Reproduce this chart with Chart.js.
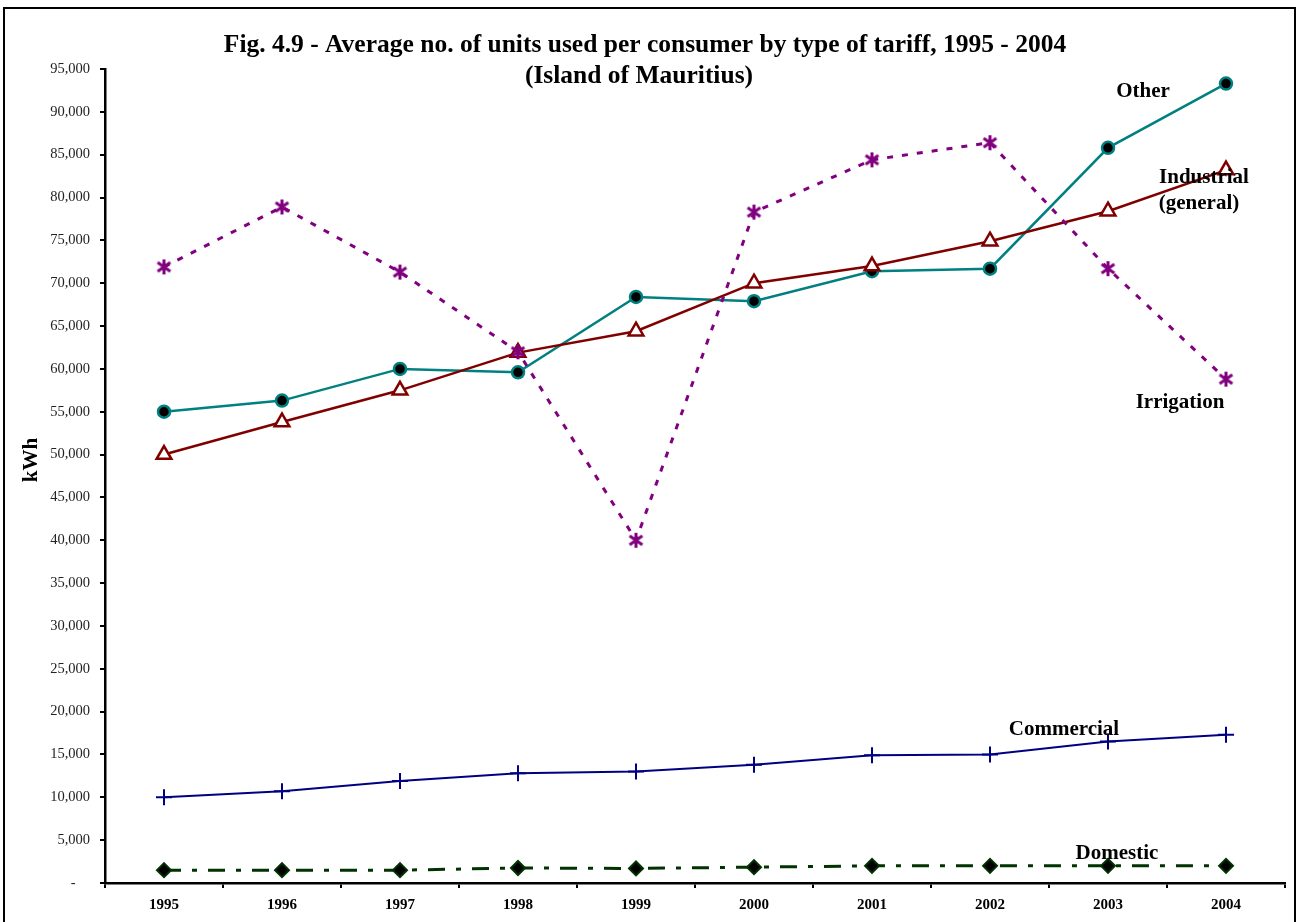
<!DOCTYPE html>
<html>
<head>
<meta charset="utf-8">
<script src="https://cdn.jsdelivr.net/npm/chart.js@4.4.1/dist/chart.umd.min.js"></script>
<style>
  html, body { margin: 0; padding: 0; background: #fff; }
  #wrap { width: 1298px; height: 922px; position: relative; }
</style>
</head>
<body>
<div id="wrap"><canvas id="c" width="1298" height="922"></canvas></div>
<script>
// Average units (kWh) per consumer, by tariff
const years = ['1995', '1996', '1997', '1998', '1999', '2000', '2001', '2002', '2003', '2004'];
const other      = [55000, 56300, 60000, 59600, 68400, 67900, 71400, 71700, 85800, 93300];
const industrial = [50000, 53800, 57500, 61900, 64400, 70000, 72000, 74900, 78400, 83200];
const irrigation = [71900, 78900, 71300, 62000, 40000, 78300, 84400, 86400, 71700, 58800];
const commercial = [10000, 10700, 11900, 12800, 13000, 13800, 14900, 15000, 16500, 17300];
const domestic   = [1500, 1500, 1500, 1750, 1700, 1850, 2000, 2000, 2000, 2000];
const yTicks = { min: 0, max: 95000, step: 5000 };
const titleLines = ['Fig. 4.9 - Average no. of units used per consumer by type of tariff, 1995 - 2004',
                    '(Island of Mauritius)'];
const yTitle = 'kWh';
const seriesNames = ['Other', 'Industrial (general)', 'Irrigation', 'Commercial', 'Domestic'];

const SERIF = '"Liberation Serif", "Times New Roman", serif';

// six-armed asterisk marker (X plus a vertical bar)
function asteriskMarker(color, size, lw) {
  const c = document.createElement('canvas');
  c.width = size; c.height = size;
  const g = c.getContext('2d');
  const m = size / 2, r = size / 2 - 1;
  g.strokeStyle = color; g.lineWidth = lw; g.lineCap = 'butt';
  g.beginPath();
  g.moveTo(m, m - r); g.lineTo(m, m + r);
  const dx = r * 0.85, dy = r * 0.6;
  g.moveTo(m - dx, m - dy); g.lineTo(m + dx, m + dy);
  g.moveTo(m - dx, m + dy); g.lineTo(m + dx, m - dy);
  g.stroke();
  return c;
}

const framePlugin = {
  id: 'frameAndText',
  beforeDraw(chart) {
    const ctx = chart.ctx;
    ctx.save();
    ctx.fillStyle = '#fff';
    ctx.fillRect(0, 0, chart.width, chart.height);
    ctx.strokeStyle = '#000';
    ctx.lineWidth = 2;
    ctx.strokeRect(4, 8, 1291, 940);
    ctx.restore();
  },
  afterDraw(chart) {
    const ctx = chart.ctx;
    ctx.save();
    ctx.fillStyle = '#000';
    ctx.textAlign = 'center';
    ctx.textBaseline = 'alphabetic';
    ctx.font = 'bold 25.5px ' + SERIF;
    ctx.fillText(titleLines[0], 645, 52);
    ctx.fillText(titleLines[1], 639, 83);

    ctx.font = 'bold 21px ' + SERIF;
    ctx.fillText(seriesNames[0], 1143, 97);
    ctx.fillText('Industrial', 1204, 183);
    ctx.fillText('(general)', 1199, 209);
    ctx.fillText(seriesNames[2], 1180, 408);
    ctx.fillText(seriesNames[3], 1064, 735);
    ctx.fillText(seriesNames[4], 1117, 859);

    // vertical axis title
    ctx.translate(32, 460);
    ctx.rotate(-Math.PI / 2);
    ctx.textBaseline = 'middle';
    ctx.fillText(yTitle, 0, 0);
    ctx.restore();
  }
};

new Chart(document.getElementById('c'), {
  type: 'line',
  data: {
    labels: years,
    datasets: [
      {
        label: seriesNames[4], data: domestic,
        borderColor: '#003300', borderWidth: 3, borderDash: [17, 11, 5, 11],
        pointStyle: 'rectRot', pointRadius: 7, pointBackgroundColor: '#000', pointBorderColor: '#003300', pointBorderWidth: 2
      },
      {
        label: seriesNames[3], data: commercial,
        borderColor: '#000080', borderWidth: 2,
        pointStyle: 'cross', pointRadius: 8, pointBorderColor: '#000080', pointBorderWidth: 2
      },
      {
        label: seriesNames[2], data: irrigation,
        borderColor: '#800080', borderWidth: 3, borderDash: [6, 9],
        pointStyle: asteriskMarker('#800080', 17, 3), pointRadius: 8
      },
      {
        label: seriesNames[1], data: industrial,
        borderColor: '#800000', borderWidth: 2.5,
        pointStyle: 'triangle', pointRadius: 8.5, pointBackgroundColor: '#fff', pointBorderColor: '#800000', pointBorderWidth: 2.5
      },
      {
        label: seriesNames[0], data: other,
        borderColor: '#008080', borderWidth: 2.5,
        pointStyle: 'circle', pointRadius: 6, pointBackgroundColor: '#000', pointBorderColor: '#008080', pointBorderWidth: 2.5
      }
    ]
  },
  options: {
    responsive: false,
    animation: false,
    devicePixelRatio: 1,
    layout: { padding: { left: 20, top: 69, right: 13, bottom: 0 } },
    plugins: { legend: { display: false }, title: { display: false }, tooltip: { enabled: false } },
    elements: { line: { tension: 0 } },
    scales: {
      x: {
        offset: true,
        grid: { display: true, offset: true, drawOnChartArea: false, drawTicks: true, tickLength: 5, color: '#000', lineWidth: 2 },
        border: { display: true, color: '#000', width: 2.5 },
        ticks: { color: '#000', font: { family: SERIF, size: 15, weight: 'bold' }, padding: 8, maxRotation: 0 },
        afterFit(s) { s.height = 39; }
      },
      y: {
        min: yTicks.min, max: yTicks.max,
        grid: { display: true, drawOnChartArea: false, drawTicks: true, tickLength: 5, color: '#000', lineWidth: 2 },
        border: { display: true, color: '#000', width: 2.5 },
        ticks: {
          stepSize: yTicks.step, color: '#222', padding: 10,
          font: { family: SERIF, size: 14.5 },
          callback: v => v === 0 ? '-    ' : v.toLocaleString('en-US')
        },
        afterFit(s) { s.width = 85; }
      }
    }
  },
  plugins: [framePlugin]
});
</script>
</body>
</html>
